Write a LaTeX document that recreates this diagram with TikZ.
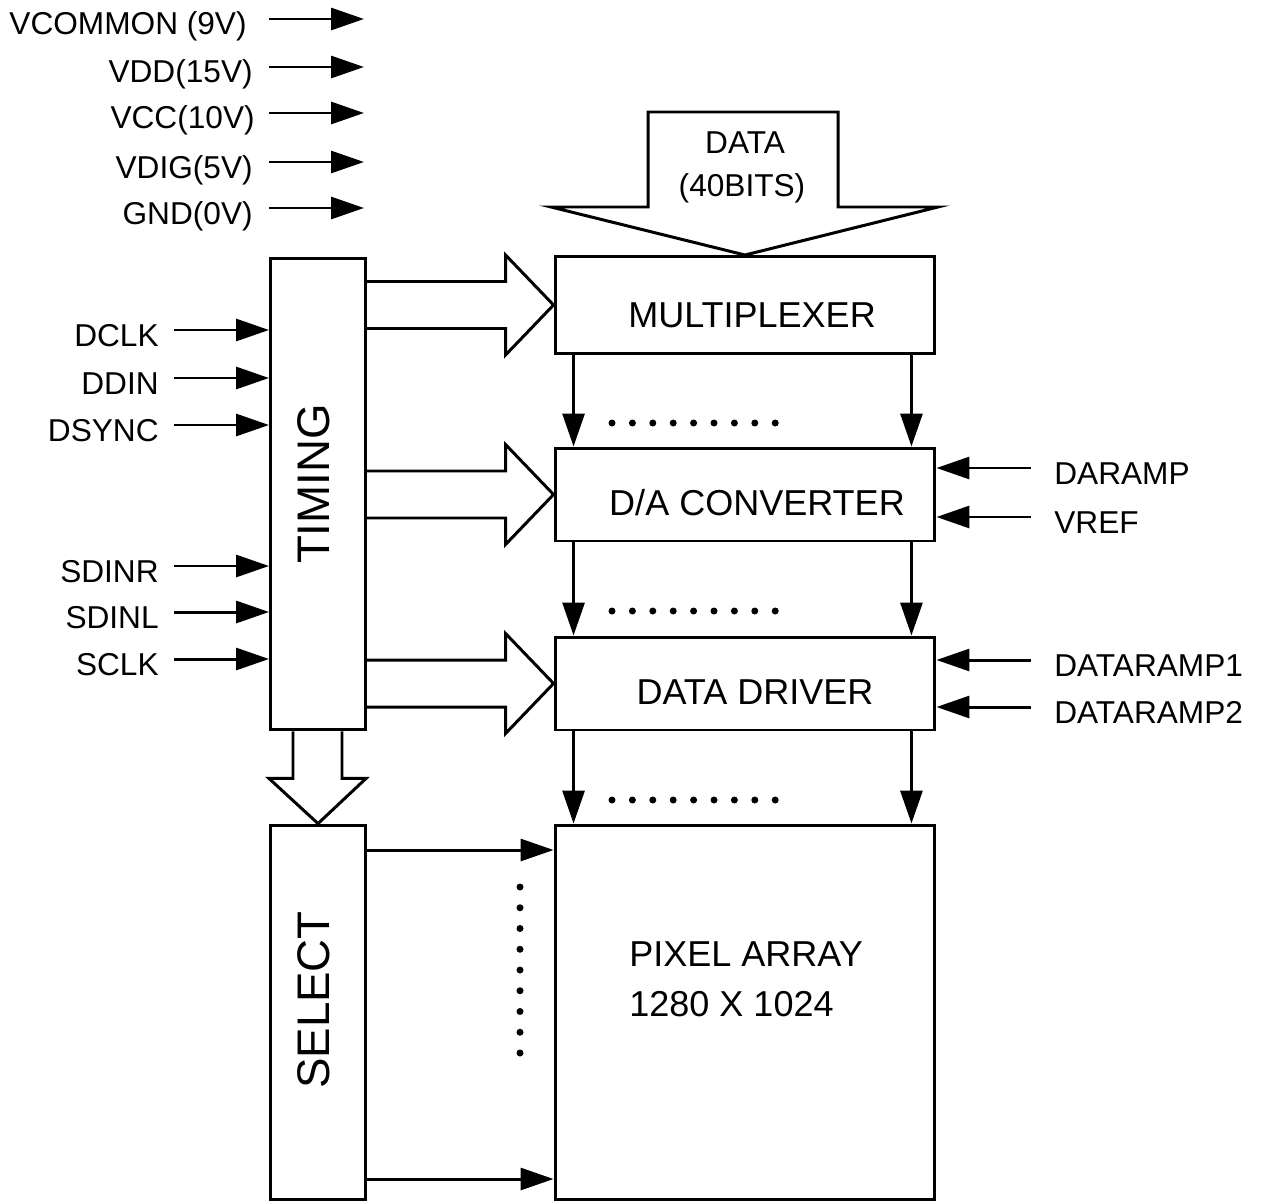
\documentclass[tikz,border=0pt]{standalone}
\usepackage{fontspec}
\setmainfont{Liberation Sans}
\usetikzlibrary{arrows.meta,calc}
\tikzset{
  lw/.style={line width=1.7pt},
  arr/.style={lw, -{Triangle[length=0.66cm,width=0.44cm]}},
  blk/.style={draw, lw, minimum width=7.6cm, inner sep=0pt},
  btxt/.style={inner sep=0pt, font=\fontsize{20.5}{24}\selectfont},
  side/.style={draw, lw, minimum width=1.9cm, inner sep=0pt},
  lbl/.style={inner sep=0pt, font=\fontsize{18}{21}\selectfont},
  vlbl/.style={inner sep=0pt, rotate=90, font=\fontsize{26}{30}\selectfont},
  hollow/.style={lw, line join=miter},
  dotmark/.style={fill=black}
}
\begin{document}
\begin{tikzpicture}[x=0.02cm,y=-0.02cm]
\useasboundingbox (0,0) rectangle (1264,1203);

% blocks
\node[blk, minimum height=1.94cm] (mux) at (745,305) {};
\node[blk, minimum height=1.86cm] (dac) at (745,494.5) {};
\node[blk, minimum height=1.86cm] (drv) at (745,683.5) {};
\node[blk, minimum height=7.5cm] (pix) at (745,1012.5) {};
\node[side, minimum height=9.44cm] (timing) at (318,494) {};
\node[side, minimum height=7.5cm] (select) at (318,1012.5) {};

\node[btxt] (muxt) at (752,315) {MULTIPLEXER};
\node[btxt] (dact) at (757,503) {D/A CONVERTER};
\node[btxt] (drvt) at (755,692) {DATA DRIVER};

\node[vlbl] (ttxt) at (314,484) {TIMING};
\node[vlbl] (stxt) at (314,1000) {SELECT};

\node[btxt, anchor=base west] (p1) at (629,966) {PIXEL ARRAY};
\node[btxt, anchor=base west] (p2) at (629,1016) {1280 X 1024};

% power supply arrows
\foreach \nm/\txt/\yy/\xe in {vcom/VCOMMON (9V)/19/247, vdd/VDD(15V)/67/253, vcc/VCC(10V)/113/255, vdig/VDIG(5V)/162/253, gnd/GND(0V)/208/253}{
  \node[lbl, anchor=base east] (\nm) at (\xe,\yy+16) {\txt};
  \coordinate (\nm s) at (269,\yy);
  \coordinate (\nm e) at (364,\yy);
  \draw[arr] (\nm s) -- (\nm e);
}

% DATA bus arrow
\node[lbl] (dtxt1) at (745,143) {DATA};
\node[lbl] (dtxt2) at (742,188) {(40BITS)};
\draw[hollow] (648,207) -- (648,112) -- (838,112) -- (838,207) -- (938,207) -- (mux.north) -- (551,207) -- cycle;

% timing inputs (left)
\foreach \nm/\txt/\yy in {dclk/DCLK/330, ddin/DDIN/378, dsync/DSYNC/425, sdinr/SDINR/566, sdinl/SDINL/612, sclk/SCLK/659}{
  \node[lbl, anchor=base east] (\nm) at (159,\yy+16) {\txt};
  \coordinate (\nm s) at (174,\yy);
  \draw[arr] (\nm s) -- (\nm s -| timing.west);
}

% hollow arrows timing -> blocks
\foreach \blk in {mux,dac,drv}{
  \draw[hollow] ($(timing.east |- \blk.west)+(0,-23.5)$) -- ($(\blk.west)+(-48,-23.5)$)
     -- ($(\blk.west)+(-48,-50)$) -- (\blk.west) -- ($(\blk.west)+(-48,50)$)
     -- ($(\blk.west)+(-48,23.5)$) -- ($(timing.east |- \blk.west)+(0,23.5)$);
}

% hollow arrow timing -> select
\draw[hollow] ($(timing.south)+(-25,0)$) -- ($(timing.south)+(-25,47)$) -- ($(timing.south)+(-49,47)$)
   -- (select.north) -- ($(timing.south)+(48,47)$) -- ($(timing.south)+(24,47)$) -- ($(timing.south)+(24,0)$);

% vertical arrows between blocks
\foreach \a/\b in {mux/dac, dac/drv, drv/pix}{
  \draw[arr] ($(\a.south west)+(20,0)$) -- ($(\b.north west)+(20,0)$);
  \draw[arr] ($(\a.south east)+(-25,0)$) -- ($(\b.north east)+(-25,0)$);
}

% horizontal dotted rows
\foreach \yy in {423,611,800}{
  \foreach \i in {0,...,8}{
    \fill[dotmark] ({612+\i*20.4},\yy) circle[radius=0.07cm];
  }
}
% vertical dotted column
\foreach \i in {0,...,8}{
  \fill[dotmark] (520,{887+\i*20.75}) circle[radius=0.07cm];
}

% right inputs
\foreach \nm/\txt/\yy/\blk in {daramp/DARAMP/468/dac, vref/VREF/517/dac, dr1/DATARAMP1/660/drv, dr2/DATARAMP2/707/drv}{
  \node[lbl, anchor=base west] (\nm) at (1054,\yy+16) {\txt};
  \coordinate (\nm s) at (1031,\yy);
  \draw[arr] (\nm s) -- (\nm s -| \blk.east);
}

% select -> pixel array
\coordinate (sel1) at (0,850);
\coordinate (sel2) at (0,1179);
\draw[arr] (sel1 -| select.east) -- (sel1 -| pix.west);
\draw[arr] (sel2 -| select.east) -- (sel2 -| pix.west);
\end{tikzpicture}
\end{document}
